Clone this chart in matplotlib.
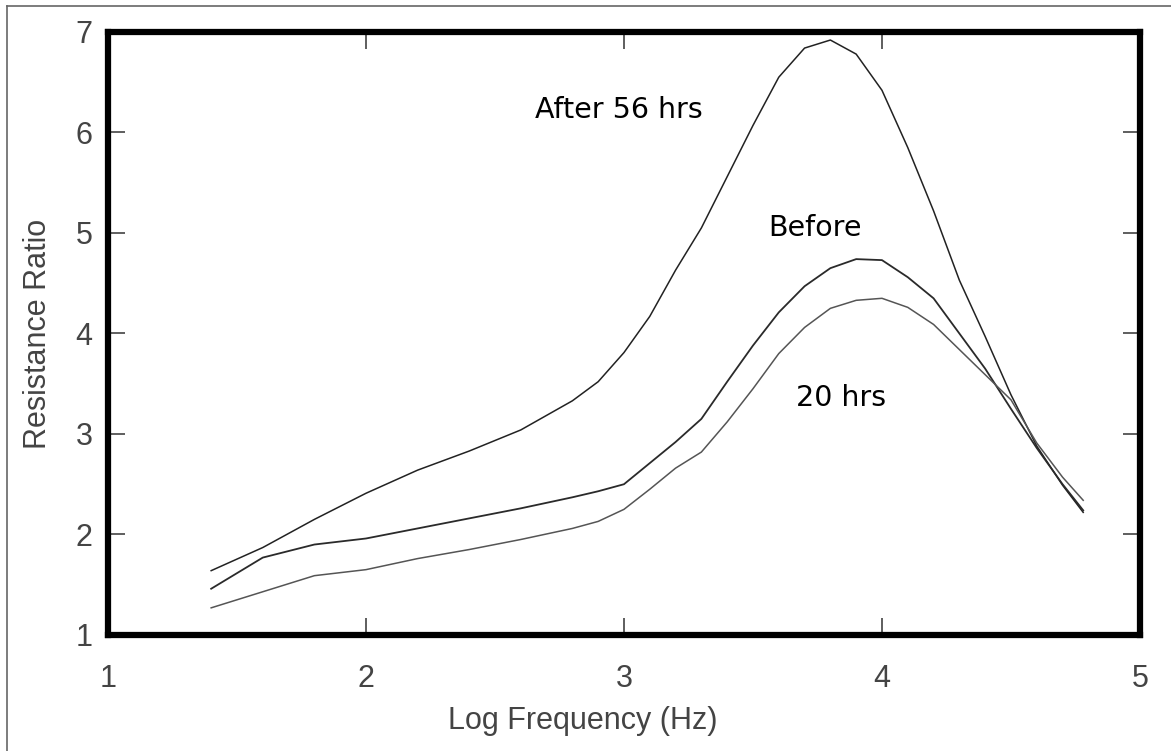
import numpy as np
import matplotlib
matplotlib.use("Agg")
import matplotlib.pyplot as plt
from matplotlib.lines import Line2D

# log frequency knots (Hz, log10)
log_freq = [1.40, 1.6, 1.8, 2.0, 2.2, 2.4, 2.6, 2.8, 2.9, 3.0, 3.1, 3.2, 3.3, 3.4,
            3.5, 3.6, 3.7, 3.8, 3.9, 4.0, 4.1, 4.2, 4.3, 4.4, 4.5, 4.6, 4.7, 4.78]

after_56 = [1.64, 1.87, 2.15, 2.41, 2.64, 2.83, 3.04, 3.33, 3.52, 3.81, 4.17, 4.63, 5.05, 5.56,
            6.07, 6.55, 6.84, 6.92, 6.78, 6.42, 5.85, 5.22, 4.53, 3.97, 3.39, 2.88, 2.49, 2.22]

before = [1.46, 1.77, 1.90, 1.96, 2.06, 2.16, 2.26, 2.37, 2.43, 2.50, 2.71, 2.92, 3.15, 3.52,
          3.88, 4.21, 4.47, 4.65, 4.74, 4.73, 4.56, 4.35, 4.00, 3.65, 3.25, 2.86, 2.50, 2.24]

after_20 = [1.27, 1.43, 1.59, 1.65, 1.76, 1.85, 1.95, 2.06, 2.13, 2.25, 2.45, 2.66, 2.82, 3.12,
            3.45, 3.80, 4.06, 4.25, 4.33, 4.35, 4.26, 4.09, 3.84, 3.59, 3.34, 2.91, 2.57, 2.34]

labels = ["After 56 hrs", "Before", "20 hrs"]
label_pos = [(2.98, 6.22), (3.74, 5.05), (3.84, 3.36)]

fig = plt.figure(figsize=(11.71, 7.51), dpi=100)
ax = fig.add_axes([0.0922, 0.1545, 0.8813, 0.8029])

ax.plot(log_freq, after_56, color='#222222', lw=1.1)
ax.plot(log_freq, before, color='#2a2a2a', lw=1.3)
ax.plot(log_freq, after_20, color='#555555', lw=1.1)

for txt, (x, y) in zip(labels, label_pos):
    ax.text(x, y, txt, ha='center', va='center', fontsize=20.5,
            family='DejaVu Sans', color='black')

ax.set_xlim(1, 5)
ax.set_ylim(1, 7)
ax.set_xticks([1, 2, 3, 4, 5])
ax.set_yticks([1, 2, 3, 4, 5, 6, 7])

for s in ax.spines.values():
    s.set_linewidth(4.5)
    s.set_color('black')

ax.tick_params(direction='in', length=12, width=1.1, color='#333333',
               top=True, right=True, labelsize=22, labelcolor='#444444')
ax.tick_params(axis='x', pad=21)
ax.tick_params(axis='y', pad=11)
for lab in ax.get_xticklabels() + ax.get_yticklabels():
    lab.set_family('Liberation Sans')

ax.set_xlabel("Log Frequency (Hz)", fontsize=22, color='#444444',
              family='Liberation Sans', labelpad=10)
ax.xaxis.set_label_coords(0.46, -0.118)
ax.set_ylabel("Resistance Ratio", fontsize=22, color='#444444',
              family='Liberation Sans', labelpad=16)

# thin frame lines at top and left of the picture
fig.add_artist(Line2D([7 / 1171, 1], [1 - 6 / 751, 1 - 6 / 751], color='#666666', lw=1.2))
fig.add_artist(Line2D([7 / 1171, 7 / 1171], [0, 1 - 6 / 751], color='#666666', lw=1.2))

fig.savefig("out.png", dpi=100)
